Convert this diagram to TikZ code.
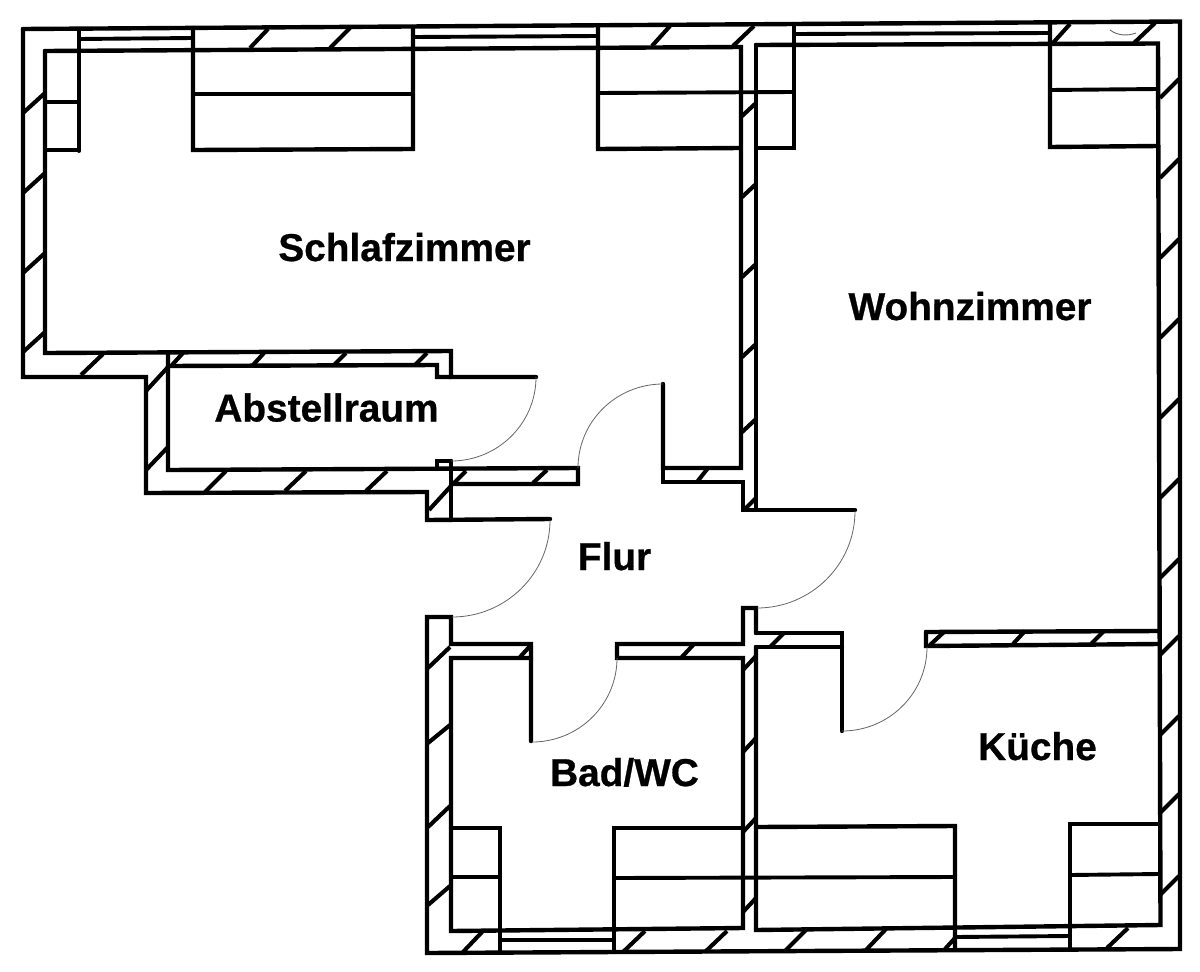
\documentclass[tikz,border=0pt]{standalone}
\usepackage{fontspec}
\setmainfont{Liberation Sans}[BoldFeatures={FakeBold=0.7}]
\tikzset{
 wall/.style={line width=4.4pt,line cap=round,line join=miter,black},
 fine/.style={line width=3.9pt,line cap=round,black},
 hatch/.style={line width=4.1pt,line cap=butt,black},
 swing/.style={line width=0.8pt,black!60},
 room/.style={font=\fontsize{38.8}{38.8}\selectfont\bfseries,anchor=base,inner sep=0pt,black},
}
\begin{document}
\begin{tikzpicture}[x=1pt,y=-1pt]
\useasboundingbox (0,0) rectangle (1200,972);
\fill[white] (0,0) rectangle (1200,972);
% outer contour
\draw[wall] (23,29) -- (1180,21.5) -- (1180,949) -- (427,953) -- (427,617) -- (451,617) -- (451,644) -- (531,644) -- (531,741);
\draw[wall] (23,29) -- (23,377) -- (146,377) -- (146,493) -- (427,492) -- (427,520) -- (550,519);
\draw[wall] (451,461) -- (437,461) -- (437,469);
\draw[wall] (451,461) -- (451,520);
% inner top
\draw[wall] (45,51) -- (741,47) -- (741,468) -- (663,468) -- (663,384);
\draw[wall] (45,51) -- (45,353) -- (451,351) -- (451,377) -- (536,377);
\draw[wall] (756,45) -- (1158,43.5) -- (1160.5,925) -- (756,930) -- (756,647);
\draw[wall] (756,633) -- (756,608) -- (743,608) -- (743,644) -- (617,644) -- (617,658) -- (743,658) -- (743,928) -- (451,931) -- (451,658) -- (531,658);
\draw[wall] (756,45) -- (756,510) -- (855,510);
\draw[wall] (663,468) -- (663,482) -- (743,482) -- (743,510) -- (756,510);
% Abstellraum
\draw[wall] (168,353) -- (168,470) -- (578,468) -- (578,484) -- (451,484);
\draw[wall] (168,366) -- (437,365) -- (437,377) -- (451,377);
% Kitchen door wall
\draw[wall] (756,633) -- (842,633) -- (842,731);
\draw[wall] (756,647) -- (842,647);
\draw[wall] (926,632) -- (1159,631);
\draw[wall] (926,632) -- (926,646) -- (1159,644);
% windows and sills, top
\draw[fine] (79,29) -- (79,151) (46,102) -- (79,102) (46,150) -- (79,150);
\draw[fine] (79,39) -- (193,38);
\draw[wall] (193,28) -- (193,150) -- (413,149) -- (413,27);
\draw[fine] (193,94) -- (413,94);
\draw[fine] (413,37) -- (598,36);
\draw[wall] (598,25) -- (598,149) -- (740,148);
\draw[wall] (757,148) -- (794,148) -- (794,24);
\draw[fine] (598,93) -- (794,92);
\draw[fine] (794,34) -- (1050,33);
\draw[wall] (1050,23) -- (1050,147) -- (1158,146);
\draw[fine] (1050,90) -- (1158,89);
% windows and sills, bottom
\draw[wall] (451,828) -- (500,828) -- (500,952);
\draw[fine] (451,877) -- (500,877);
\draw[fine] (500,940) -- (614,940);
\draw[wall] (614,952) -- (614,828) -- (743,828);
\draw[fine] (614,878) -- (955,877);
\draw[wall] (756,827) -- (955,826) -- (955,949);
\draw[fine] (955,937) -- (1070,936);
\draw[wall] (1070,948) -- (1070,824) -- (1159,824);
\draw[fine] (1070,875) -- (1159,874);
% door swings
\draw[swing] (536,377) .. controls (536,423.4) and (498,461) .. (451,461);
\draw[swing] (663,384) .. controls (616,384) and (578,421.6) .. (578,468);
\draw[swing] (550,520) .. controls (550,573.6) and (506,617) .. (452,617);
\draw[swing] (855,511) .. controls (855,564.6) and (811,608) .. (757,608);
\draw[swing] (617,658) .. controls (617,704.4) and (579,742) .. (532,742);
\draw[swing] (927,647) .. controls (927,693.4) and (889,731) .. (842,731);
% hatching: left wall
\foreach \y in {113,193,273,352} \draw[hatch] (23,\y) -- (45,\y-20);
% top wall
\draw[hatch] (250,48) -- (268,29);
\draw[hatch] (330,48) -- (350,28);
\draw[hatch] (652,46) -- (670,26);
\draw[hatch] (733,46) -- (754,26);
\draw[hatch] (1052,44) -- (1070,24);
\draw[hatch] (1134,43) -- (1155,23);
% right wall
\foreach \y in {98,178,258,338,418,498,578,655,735,813,895} \draw[hatch] (1160,\y) -- (1179,\y-19);
% partition upper
\foreach \y in {117,198,278,358,433} \draw[hatch] (741,\y) -- (756,\y-14);
\draw[hatch] (745,509) -- (756,498);
\draw[hatch] (697,482) -- (708,468);
% Abstellraum walls
\draw[hatch] (81,375) -- (103,354);
\draw[hatch] (146,391) -- (168,367);
\draw[hatch] (146,470) -- (168,447);
\draw[hatch] (172,365) -- (183,353);
\draw[hatch] (253,365) -- (264,353);
\draw[hatch] (334,365) -- (346,353);
\draw[hatch] (415,365) -- (427,353);
\draw[hatch] (205,492) -- (226,471);
\draw[hatch] (285,491) -- (306,471);
\draw[hatch] (366,491) -- (387,471);
\draw[hatch] (429,510) -- (451,486);
\draw[hatch] (453,484) -- (466,471);
\draw[hatch] (533,483) -- (547,470);
% lower walls
\draw[hatch] (520,657) -- (531,645);
\draw[hatch] (681,658) -- (694,644);
\draw[hatch] (770,647) -- (784,633);
\draw[hatch] (930,645) -- (944,632);
\draw[hatch] (1013,644) -- (1025,631);
\draw[hatch] (1091,644) -- (1104,631);
\foreach \y/\z in {668/647,743/725,827/806,905/886} \draw[hatch] (428,\y) -- (450,\z);
\foreach \y in {670,752,832,912} \draw[hatch] (743,\y) -- (756,\y-14);
% bottom wall
\draw[hatch] (463,952) -- (483,931);
\draw[hatch] (623,952) -- (645,931);
\draw[hatch] (705,952) -- (727,931);
\draw[hatch] (785,951) -- (806,930);
\draw[hatch] (866,950) -- (886,929);
\draw[hatch] (945,949) -- (955,938);
\draw[hatch] (1107,948) -- (1128,928);
% scanner mark
\draw[line width=0.9pt,black!60] (1110,30) .. controls (1118,36) and (1128,36) .. (1136,33);
% room labels
\node[room] (schlaf) at (404.5,261) {Schlafzimmer};
\node[room] (wohn) at (970,320) {Wohnzimmer};
\node[room] (abst) at (326.5,421.5) {Abstellraum};
\node[room] (flur) at (614.5,570) {Flur};
\node[room] (bad) at (624.5,786) {Bad/WC};
\node[room] (kueche) at (1037.5,760) {Küche};
\end{tikzpicture}
\end{document}
